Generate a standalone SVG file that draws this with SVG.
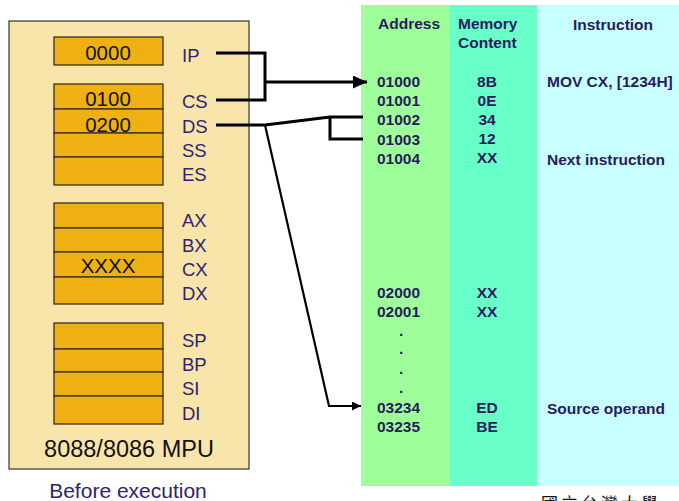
<svg xmlns="http://www.w3.org/2000/svg" width="679" height="501" viewBox="0 0 679 501">
<defs>
<style>
.reg{fill:#EEB111;stroke:#3a3020;stroke-width:1.3}
.val{font-family:"Liberation Sans",Arial,sans-serif;font-size:20.5px;fill:#111;text-anchor:middle}
.lbl{font-family:"Liberation Sans",Arial,sans-serif;font-size:18.5px;fill:#2E2470}
.mem{font-family:"Liberation Sans",Arial,sans-serif;font-size:15.5px;font-weight:bold;fill:#2A1A5E}
.memc{font-family:"Liberation Sans",Arial,sans-serif;font-size:15.5px;font-weight:bold;fill:#2A1A5E;text-anchor:middle}
.ln{fill:none;stroke:#000;stroke-width:3}
.ln2{fill:none;stroke:#000;stroke-width:2.2}
</style>
<marker id="ah" markerWidth="14" markerHeight="13" refX="14" refY="6.5" orient="auto" markerUnits="userSpaceOnUse">
<path d="M0,0 L14,6.5 L0,13 Z" fill="#000"/>
</marker>
<marker id="ahs" markerWidth="9" markerHeight="9" refX="9" refY="4.5" orient="auto" markerUnits="userSpaceOnUse">
<path d="M0,0 L9,4.5 L0,9 Z" fill="#000"/>
</marker>
</defs>

<g id="mpu">
<rect x="9" y="21" width="240" height="448" fill="#F9E5AA" stroke="#333" stroke-width="1.2"/>
<text x="129" y="457" font-family="Liberation Sans, Arial, sans-serif" font-size="23.5" fill="#111" text-anchor="middle">8088/8086 MPU</text>
</g>

<g id="reg-ip">
<rect class="reg" x="54" y="37" width="109" height="28"/>
<text class="val" x="108" y="60">0000</text>
<text class="lbl" x="182" y="62">IP</text>
</g>

<g id="reg-seg">
<rect class="reg" x="54" y="84" width="109" height="25"/>
<rect class="reg" x="54" y="109" width="109" height="24"/>
<rect class="reg" x="54" y="133" width="109" height="24"/>
<rect class="reg" x="54" y="157" width="109" height="28"/>
<text class="val" x="108" y="106">0100</text>
<text class="val" x="108" y="132">0200</text>
<text class="lbl" x="182" y="108">CS</text>
<text class="lbl" x="182" y="133">DS</text>
<text class="lbl" x="182" y="157">SS</text>
<text class="lbl" x="182" y="181">ES</text>
</g>

<g id="reg-gen">
<rect class="reg" x="54" y="203" width="109" height="25"/>
<rect class="reg" x="54" y="228" width="109" height="24"/>
<rect class="reg" x="54" y="252" width="109" height="25"/>
<rect class="reg" x="54" y="277" width="109" height="27"/>
<text class="val" x="108" y="273">XXXX</text>
<text class="lbl" x="182" y="227">AX</text>
<text class="lbl" x="182" y="252">BX</text>
<text class="lbl" x="182" y="276">CX</text>
<text class="lbl" x="182" y="300">DX</text>
</g>

<g id="reg-ptr">
<rect class="reg" x="54" y="323" width="109" height="26"/>
<rect class="reg" x="54" y="349" width="109" height="23"/>
<rect class="reg" x="54" y="372" width="109" height="24"/>
<rect class="reg" x="54" y="396" width="109" height="28"/>
<text class="lbl" x="182" y="347">SP</text>
<text class="lbl" x="182" y="371">BP</text>
<text class="lbl" x="182" y="395">SI</text>
<text class="lbl" x="182" y="420">DI</text>
</g>

<g id="caption">
<text x="128" y="498" font-family="Liberation Sans, Arial, sans-serif" font-size="21" fill="#2E2470" text-anchor="middle">Before execution</text>
</g>

<g id="memory">
<rect x="361" y="5" width="89" height="481" fill="#9EFF9A"/>
<rect x="450" y="5" width="87" height="481" fill="#68FFC8"/>
<rect x="537" y="5" width="142" height="481" fill="#C8FFFF"/>
<text class="mem" x="378" y="29">Address</text>
<text class="mem" x="458" y="29">Memory</text>
<text class="mem" x="458" y="48">Content</text>
<text class="memc" x="613" y="30">Instruction</text>

<text class="mem" x="377" y="87">01000</text>
<text class="mem" x="377" y="106">01001</text>
<text class="mem" x="377" y="125">01002</text>
<text class="mem" x="377" y="145">01003</text>
<text class="mem" x="377" y="164">01004</text>
<text class="memc" x="487" y="87">8B</text>
<text class="memc" x="487" y="106">0E</text>
<text class="memc" x="487" y="125">34</text>
<text class="memc" x="487" y="144">12</text>
<text class="memc" x="487" y="163">XX</text>
<text class="mem" x="547" y="87">MOV CX, [1234H]</text>
<text class="mem" x="547" y="165">Next instruction</text>

<text class="mem" x="377" y="298">02000</text>
<text class="mem" x="377" y="317">02001</text>
<text class="mem" x="399" y="336">.</text>
<text class="mem" x="399" y="354">.</text>
<text class="mem" x="399" y="374">.</text>
<text class="mem" x="399" y="393">.</text>
<text class="mem" x="377" y="413">03234</text>
<text class="mem" x="377" y="432">03235</text>
<text class="memc" x="487" y="298">XX</text>
<text class="memc" x="487" y="317">XX</text>
<text class="memc" x="487" y="413">ED</text>
<text class="memc" x="487" y="432">BE</text>
<text class="mem" x="547" y="414">Source operand</text>
</g>

<g id="footer">
<text x="541" y="510" font-family="Noto Sans CJK TC, serif" font-size="17" fill="#111" letter-spacing="3">國立台灣大學</text>
</g>

<g id="connectors">
<path class="ln" d="M216,53 H265 V100 H216"/>
<path class="ln" d="M265,82 H367" marker-end="url(#ah)"/>
<path class="ln" d="M216,125 H265 L330,117 H363 M330,117 V139 H363"/>
<path class="ln2" d="M265,125 L329,406 H361" marker-end="url(#ahs)"/>
</g>
</svg>
